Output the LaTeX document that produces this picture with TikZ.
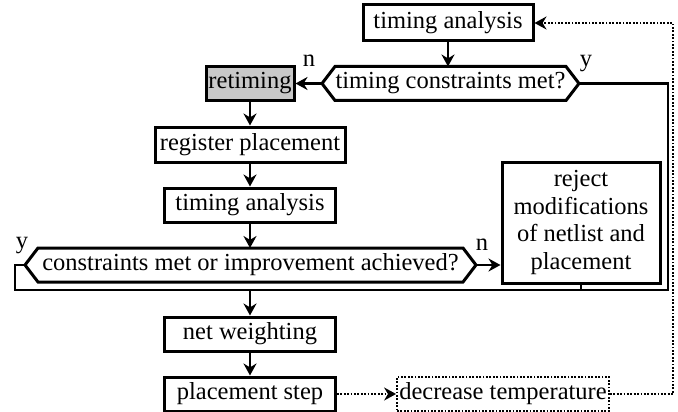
\documentclass[tikz,border=0pt]{standalone}
\usepackage{fontspec}
\setmainfont{Liberation Serif}
\usetikzlibrary{arrows.meta,calc}
\begin{document}
\begin{tikzpicture}[x=1pt,y=-1pt,
  txt/.style={font=\fontsize{24.5}{27.7}\selectfont, align=center},
  box/.style={txt, draw, line width=3pt, inner sep=0pt, outer sep=1.5pt},
  hexa/.style={txt, inner sep=0pt, outer sep=0pt},
  hexline/.style={line width=3pt, line join=miter},
  tip/.style={-{Stealth[length=12pt,width=13pt]}},
  conn/.style={line width=2.2pt, tip},
  plain/.style={line width=2.2pt},
  dots/.style={line width=1.8pt, dash pattern=on 1.8pt off 1.6pt},
  lbl/.style={font=\fontsize{24.5}{25}\selectfont, inner sep=0pt}]
\useasboundingbox (0,0) rectangle (678,412);

% nodes
\node[box, minimum width=170pt, minimum height=36pt] (ta1) at (448,23) {timing analysis};
\node[hexa, minimum width=257pt, minimum height=34pt] (h1) at (450.5,83.5) {timing constraints met?};
\draw[hexline] (h1.west) -- ($(h1.north west)+(13,0)$) -- ($(h1.north east)+(-13,0)$) -- (h1.east)
  -- ($(h1.south east)+(-13,0)$) -- ($(h1.south west)+(13,0)$) -- cycle;
\node[box, fill={rgb,255:red,200;green,200;blue,200}, minimum width=88pt, minimum height=34pt] (ret) at (250,83.5) {retiming};
\node[box, minimum width=190pt, minimum height=35pt] (reg) at (250,144.5) {register placement};
\node[box, minimum width=171pt, minimum height=34pt] (ta2) at (250,205) {timing analysis};
\node[hexa, minimum width=451pt, minimum height=34pt] (h2) at (250.5,265) {constraints met or improvement achieved?};
\draw[hexline] (h2.west) -- ($(h2.north west)+(13,0)$) -- ($(h2.north east)+(-13,0)$) -- (h2.east)
  -- ($(h2.south east)+(-13,0)$) -- ($(h2.south west)+(13,0)$) -- cycle;
\node[box, minimum width=158pt, minimum height=121pt] (rej) at (581,222.5) {reject\\modifications\\of netlist and\\placement};
\node[box, minimum width=171pt, minimum height=34pt] (nw) at (250,334) {net weighting};
\node[box, minimum width=171pt, minimum height=34pt] (ps) at (250,394) {placement step};
\node[txt, draw, dots, inner sep=0pt, outer sep=0.9pt, minimum width=212pt, minimum height=34pt] (dt) at (503,394) {decrease temperature};

% labels
\node[lbl] (ln1) at (309,61) {n};
\node[lbl] (ly1) at (586,64) {y};
\node[lbl] (ly2) at (22,246) {y};
\node[lbl] (ln2) at (482,245) {n};

% coordinates
\coordinate (bl) at (15,290);
\coordinate (br) at (668,290);
\coordinate (dr) at (673,0);

% connectors
\draw[conn] (ta1.south) -- (ta1.south |- h1.north);
\draw[conn] (h1.west) -- (ret.east);
\draw[conn] (ret.south) -- (reg.north);
\draw[conn] (reg.south) -- (ta2.north);
\draw[conn] (ta2.south) -- (ta2.south |- h2.north);
\draw[conn] (h2.east) -- (h2.east -| rej.west);
\draw[plain, line join=miter] (h2.west) -- (h2.west -| bl) -- (bl) -- (br) -- (br |- h1.east) -- (h1.east);
\draw[plain] (rej.south) -- (rej.south |- bl);
\draw[conn] (nw.north |- bl) -- (nw.north);
\draw[conn] (nw.south) -- (ps.north);
\draw[dots, tip] (ps.east) -- (dt.west);
\draw[dots, tip] (dt.east) -- (dt.east -| dr) -- (dr |- ta1.east) -- (ta1.east);
\end{tikzpicture}
\end{document}
